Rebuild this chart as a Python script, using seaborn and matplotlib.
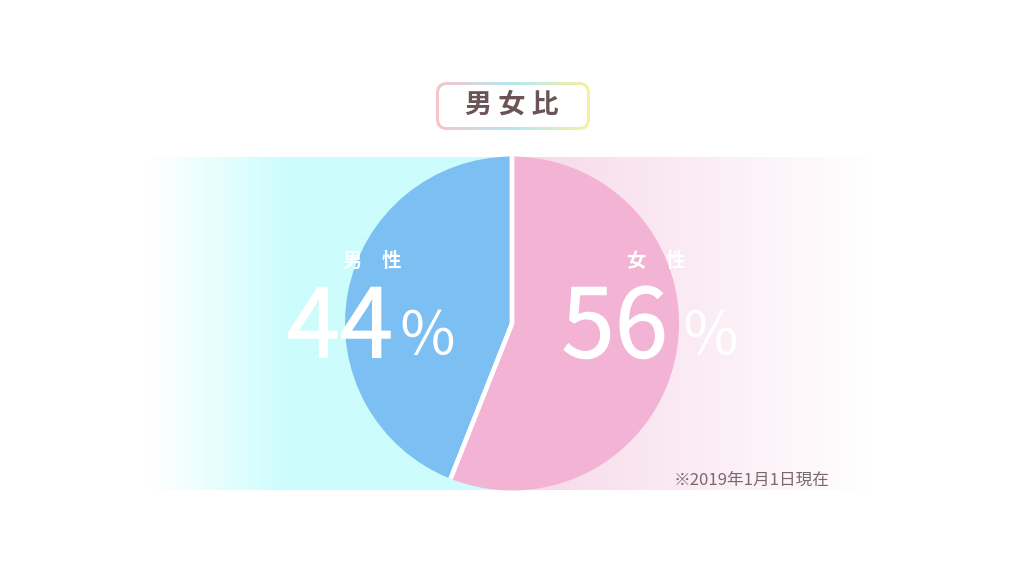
import numpy as np
import matplotlib.pyplot as plt
import matplotlib.patheffects as pe
from matplotlib.patches import FancyBboxPatch, Circle
import seaborn as sns

# data
categories = ["男性", "女性"]
shares = [44, 56]
title = "男女比"
note = "※2019年1月1日現在"

slice_colors = ["#7cbff2", "#f3b3d4"]

sns.set_theme(style="white")
plt.rcParams["font.family"] = ["Noto Sans CJK JP", "DejaVu Sans"]

W, H = 1024, 576


def py(y):
    # pixel row (from top) -> data y (from bottom)
    return H - y


def blend(c1, c2, t):
    c1, c2 = np.asarray(c1), np.asarray(c2)
    return c1 * (1 - t[:, None]) + c2 * t[:, None]


fig = plt.figure(figsize=(10.24, 5.76), dpi=100)
ax = fig.add_axes([0, 0, 1, 1])

# background band: cyan on the left, pink on the right, both fading to white
band_l, band_r, band_t, band_b = 150, 870, 157, 490
xs = np.arange(band_l, band_r) + 0.5
white = np.array([1.0, 1.0, 1.0])
cyan = np.array([0.80, 0.99, 0.99])
pink = np.array([0.965, 0.845, 0.91])
mid = W / 2
t_left = np.clip((xs - band_l) / 140, 0, 1)
t_right = np.clip((xs - mid) / (band_r - mid), 0, 1)
band = np.where((xs < mid)[:, None], blend(white, cyan, t_left), blend(pink, white, t_right))
ax.imshow(band[None, :, :], extent=(band_l, band_r, py(band_b), py(band_t)),
          aspect="auto", zorder=0, interpolation="bilinear")

# pie
center = (mid, py(323.5))
radius = 167
ax.pie(shares, colors=slice_colors, startangle=90, counterclock=True,
       center=center, radius=radius, wedgeprops=dict(linewidth=0))
# white separators, clipped to the disc so the outer rim has no outline
sep, _ = ax.pie(shares, colors=["none", "none"], startangle=90, counterclock=True,
                center=center, radius=radius * 1.1,
                wedgeprops=dict(edgecolor="white", linewidth=3.2, fill=False))
clip = Circle(center, radius, transform=ax.transData, visible=False)
ax.add_patch(clip)
for w in sep:
    w.set_clip_on(True)
    w.set_clip_path(clip)

# labels inside slices
lab_x = [372, 656]
num_right = [393, 668]
pct_left = [397, 680]
thick = [pe.withStroke(linewidth=0.8, foreground="white")]
for i, cat in enumerate(categories):
    ax.text(lab_x[i], py(261), cat[0] + "　" + cat[1], ha="center", va="center",
            fontsize=14, fontweight="bold", color="white", zorder=5)
    ax.text(num_right[i], py(357.5), str(shares[i]), ha="right", va="baseline",
            fontsize=69, color="white", path_effects=thick, zorder=5)
    ax.text(pct_left[i], py(355), "％", ha="left", va="baseline",
            fontsize=43, color="white", zorder=5)

# title box with gradient border
bx, by, bw, bh = 436, 82, 154, 48
outer = FancyBboxPatch((bx, py(by + bh)), bw, bh,
                       boxstyle="round,pad=0,rounding_size=11",
                       facecolor="none", edgecolor="none")
ax.add_patch(outer)
gx = np.linspace(0, 1, 200)
stops = np.array([0.0, 0.5, 1.0])
stop_cols = np.array([[0.97, 0.77, 0.79], [0.71, 0.91, 0.95], [0.97, 0.94, 0.62]])
grad = np.stack([np.interp(gx, stops, stop_cols[:, k]) for k in range(3)], axis=1)
im = ax.imshow(grad[None, :, :], extent=(bx, bx + bw, py(by + bh), py(by)),
               aspect="auto", zorder=3, interpolation="bilinear")
im.set_clip_path(outer)
bd = 3
ax.add_patch(FancyBboxPatch((bx + bd, py(by + bh - bd)), bw - 2 * bd, bh - 2 * bd,
                            boxstyle="round,pad=0,rounding_size=8",
                            facecolor="white", edgecolor="none", zorder=4))
ax.text(mid, py(105), " ".join(title), ha="center", va="center",
        fontsize=19.5, fontweight="bold", color="#6b5458", zorder=5)

# footnote
ax.text(830, py(480), note, ha="right", va="center", fontsize=12,
        color="#7a686d", zorder=5)

ax.set_xlim(0, W)
ax.set_ylim(0, H)
ax.set_aspect("auto")
ax.axis("off")
fig.savefig("out.png", dpi=100, facecolor="white")
